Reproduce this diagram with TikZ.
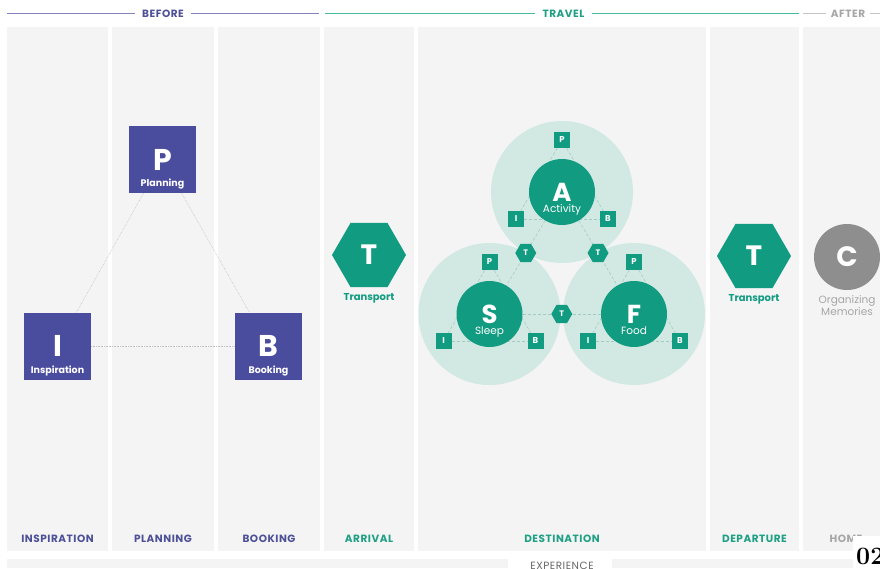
\documentclass[tikz,border=0pt]{standalone}
\usepackage{fontspec}
\newfontfamily\pop{Poppins}
\newfontfamily\popwide[LetterSpace=5]{Poppins}
\usetikzlibrary{positioning,shapes.geometric}
\definecolor{trippurple}{HTML}{4A4C9E}
\definecolor{tripteal}{HTML}{119B80}
\definecolor{ringteal}{HTML}{D2E9E3}
\definecolor{colgray}{HTML}{F4F4F4}
\definecolor{homegray}{HTML}{8E8E8E}
\definecolor{labpurple}{HTML}{4F5198}
\definecolor{labteal}{HTML}{1FA085}
\definecolor{labgray}{HTML}{A6A6A6}
\definecolor{linepurple}{HTML}{8283BC}
\definecolor{lineteal}{HTML}{45BBA0}
\definecolor{linegray}{HTML}{C6C6C6}
\definecolor{dashteal}{HTML}{A3CBC1}
\definecolor{dotgray}{HTML}{C2C2C6}
\pgfdeclarelayer{back}
\pgfdeclarelayer{links}
\pgfsetlayers{back,links,main}

\begin{document}
\begin{tikzpicture}[x=1pt,y=-1pt,on grid,node distance=52pt]
    \tikzset{
      colbox/.style={fill=colgray},
      head/.style={font=\popwide\bfseries\fontsize{10.5}{12}\selectfont,inner xsep=7pt},
      foot/.style={font=\popwide\bfseries\fontsize{10.5}{12}\selectfont},
      stage/.style={rectangle,fill=trippurple,minimum size=67pt,inner sep=0pt,text=white,
        font=\pop\bfseries\fontsize{30}{30}\selectfont,label={[stagelab]south:#1}},
      stagelab/.style={anchor=base,inner sep=0pt,yshift=6.5pt,text=white,font=\pop\bfseries\fontsize{9.5}{10}\selectfont},
      hexbig/.style={regular polygon,regular polygon sides=6,minimum size=74pt,inner sep=0pt,
        fill=tripteal,text=white,font=\pop\bfseries\fontsize{28}{28}\selectfont,
        label={[hexlab]south:Transport}},
      hexlab/.style={anchor=base,inner sep=0pt,yshift=-13pt,text=tripteal,font=\pop\bfseries\fontsize{10}{10}\selectfont},
      ring/.style={circle,fill=ringteal,minimum size=142pt,inner sep=0pt},
      core/.style={circle,fill=tripteal,minimum size=66pt,inner sep=0pt,text=white,
        font=\pop\bfseries\fontsize{26}{26}\selectfont,label={[corelab]south:#1}},
      corelab/.style={anchor=base,inner sep=0pt,yshift=12.5pt,text=white,font=\pop\fontsize{10.5}{10}\selectfont},
      mini/.style={rectangle,fill=tripteal,minimum size=16pt,inner sep=0pt,text=white,
        font=\pop\bfseries\fontsize{8.5}{8}\selectfont},
      hexmini/.style={regular polygon,regular polygon sides=6,minimum size=21pt,inner sep=0pt,
        fill=tripteal,text=white,font=\pop\bfseries\fontsize{8}{8}\selectfont},
      dotlink/.style={draw=dotgray,densely dotted,line width=0.6pt},
      dashlink/.style={draw=dashteal,densely dashed,line width=0.6pt}
    }
    \useasboundingbox (0,0) rectangle (880,568);
    \clip (0,0) rectangle (880,568);

    % stage columns
    \begin{pgfonlayer}{back}
      \fill[white] (0,0) rectangle (880,568);
      \fill[colbox] (7,27) rectangle (108,551);
      \fill[colbox] (112,27) rectangle (214,551);
      \fill[colbox] (218,27) rectangle (320,551);
      \fill[colbox] (324,27) rectangle (414,551);
      \fill[colbox] (418,27) rectangle (706,551);
      \fill[colbox] (710,27) rectangle (799,551);
      \fill[colbox] (803,27) rectangle (880,551);
    \end{pgfonlayer}

    % header
    \coordinate (h0) at (7,13.5);
    \coordinate (h1) at (319,13.5);
    \coordinate (h2) at (325,13.5);
    \coordinate (h3) at (799,13.5);
    \coordinate (h4) at (803,13.5);
    \coordinate (h5) at (880,13.5);
    \node[head,text=labpurple] (before) at (163,13.5) {BEFORE};
    \node[head,text=labteal] (travel) at (563.5,13.5) {TRAVEL};
    \node[head,text=labgray,inner xsep=5pt] (after) at (848,13.5) {AFTER};
    \draw[linepurple,line width=1.2pt] (h0) -- (before) (before) -- (h1);
    \draw[lineteal,line width=1.2pt] (h2) -- (travel) (travel) -- (h3);
    \draw[linegray,line width=1.2pt] (h4) -- (after) (after) -- (h5);

    % before
    \node[stage=Planning] (P) at (162.5,159.5) {P};
    \node[stage=Inspiration] (I) at (57.5,346) {I};
    \node[stage=Booking] (B) at (268.5,346) {B};
    \begin{pgfonlayer}{links}
      \path[dotlink] (P) edge (I) edge (B) (I) edge (B);
    \end{pgfonlayer}

    % travel
    \node[hexbig] (arrT) at (369,255) {T};
    \node[hexbig] (depT) at (754,256) {T};
    \foreach \c/\x/\y/\w in {A/562/192/Activity,S/489.5/314/Sleep,F/634/314/Food}{
      \begin{pgfonlayer}{back}
        \node[ring] (\c ring) at (\x,\y) {};
      \end{pgfonlayer}
      \node[core=\w] (\c) at (\x,\y) {\c};
      \node[mini] (\c P) [above=of \c] {P};
      \node[mini] (\c I) [below left=27pt and 46pt of \c] {I};
      \node[mini] (\c B) [below right=27pt and 46pt of \c] {B};
      \begin{pgfonlayer}{links}
        \path[dashlink] (\c P) edge (\c I) edge (\c B) (\c I) edge (\c B);
      \end{pgfonlayer}
    }
    \node[hexmini] (tAS) at (525.75,253) {T};
    \node[hexmini] (tAF) at (598,253) {T};
    \node[hexmini] (tSF) at (561.75,314) {T};
    \begin{pgfonlayer}{links}
      \path[dashlink] (A) edge (S) edge (F) (S) edge (F);
    \end{pgfonlayer}

    % after
    \node[circle,fill=homegray,minimum size=66pt,inner sep=0pt,text=white,
      font=\pop\bfseries\fontsize{28}{28}\selectfont,
      label={[anchor=north,yshift=-2pt,align=center,text=labgray,font=\pop\fontsize{10.5}{11.5}\selectfont]south:{Organizing\\Memories}}]
      (home) at (847,257) {C};

    % footer
    \node[foot,text=labpurple] (insp) at (57.5,539) {INSPIRATION};
    \node[foot,text=labpurple] (plan) at (163,539) {PLANNING};
    \node[foot,text=labpurple] (book) at (269,539) {BOOKING};
    \node[foot,text=labteal] (arr) at (369,539) {ARRIVAL};
    \node[foot,text=labteal] (dest) at (562,539) {DESTINATION};
    \node[foot,text=labteal] (dep) at (754.5,539) {DEPARTURE};
    \node[foot,text=labgray] (homelab) at (846,539) {HOME};
    \fill[colgray] (7,559) rectangle (508,568);
    \fill[colgray] (612,559) rectangle (880,568);
    \node[font=\popwide\fontsize{10.5}{12}\selectfont,text=black!60] (exper) at (562,566) {EXPERIENCE};
    \fill[white] (853,536) rectangle (880,568);
    \node[anchor=base west,inner sep=0pt,font=\bfseries\fontsize{25}{25}\selectfont] (pagenum) at (856,564) {02};
\end{tikzpicture}
\end{document}
